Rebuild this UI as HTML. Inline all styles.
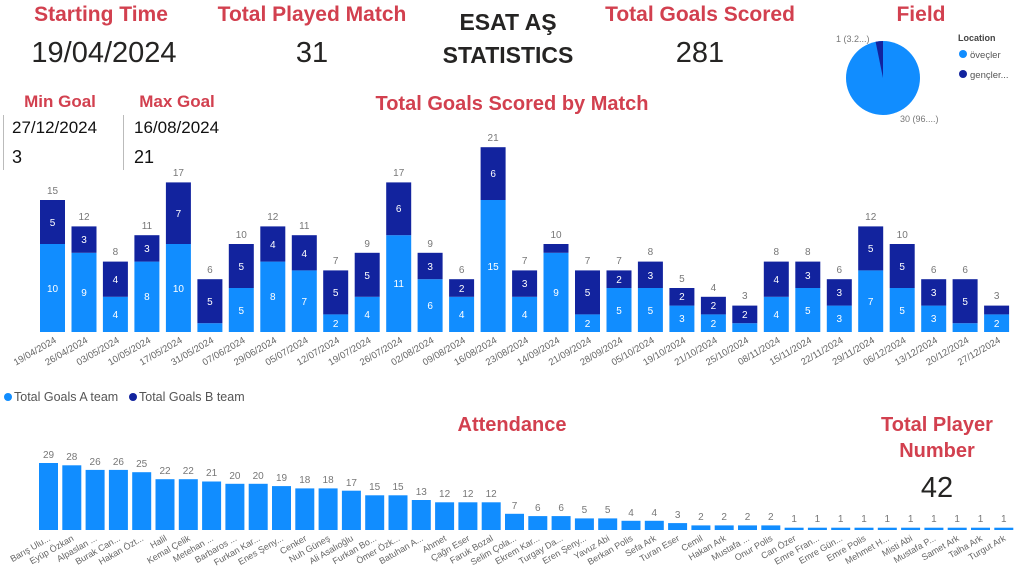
<!DOCTYPE html>
<html><head><meta charset="utf-8"><style>
body{margin:0;background:#fff;}
svg{display:block;font-family:"Liberation Sans",sans-serif;}
.r{fill:#d2404f;font-weight:bold;text-anchor:middle;}
.big{fill:#252423;font-size:29px;text-anchor:middle;}
.a{fill:#118dff}.b{fill:#12239e}
.w{fill:#fff;font-size:10px;text-anchor:middle;}
.t{fill:#777;font-size:10px;text-anchor:middle;}
.d{fill:#666;font-size:9.5px;text-anchor:end;}
.n{fill:#666;font-size:9px;text-anchor:end;}
</style></head><body>
<svg width="1024" height="572" viewBox="0 0 1024 572">
<text class="r" x="101" y="21" font-size="21">Starting Time</text>
<text class="big" x="104" y="62">19/04/2024</text>
<text class="r" x="312" y="21" font-size="21">Total Played Match</text>
<text class="big" x="312" y="62">31</text>
<text x="508" y="30" font-size="23" font-weight="bold" fill="#252423" text-anchor="middle">ESAT AŞ</text>
<text x="508" y="63" font-size="23" font-weight="bold" fill="#252423" text-anchor="middle">STATISTICS</text>
<text class="r" x="700" y="21" font-size="21">Total Goals Scored</text>
<text class="big" x="700" y="62">281</text>
<text class="r" x="921" y="21" font-size="21">Field</text>
<circle cx="883" cy="78" r="37" class="a"/>
<path d="M883,78 L875.6,41.8 A37,37 0 0 1 883,41 Z" class="b"/>
<text x="836" y="42" font-size="9" fill="#777">1 (3.2...)</text>
<text x="900" y="122" font-size="9" fill="#777">30 (96....)</text>
<text x="958" y="41" font-size="9" font-weight="bold" fill="#444">Location</text>
<circle cx="963" cy="54" r="4" class="a"/><text x="970" y="58" font-size="9.5" fill="#555">öveçler</text>
<circle cx="963" cy="74" r="4" class="b"/><text x="970" y="78" font-size="9.5" fill="#555">gençler...</text>
<text class="r" x="60" y="107" font-size="17">Min Goal</text>
<text class="r" x="177" y="107" font-size="17">Max Goal</text>
<rect x="3" y="115" width="1" height="55" fill="#bbb"/>
<rect x="123" y="115" width="1" height="55" fill="#bbb"/>
<text x="12" y="133" font-size="17" fill="#111">27/12/2024</text>
<text x="12" y="163" font-size="18" fill="#111">3</text>
<text x="134" y="133" font-size="17" fill="#111">16/08/2024</text>
<text x="134" y="163" font-size="18" fill="#111">21</text>
<text class="r" x="512" y="110" font-size="20">Total Goals Scored by Match</text>

<g transform="translate(40,0)"><rect class="a" width="25" y="244" height="88"/><rect class="b" width="25" y="200" height="44"/><text class="w" x="12.5" y="292">10</text><text class="w" x="12.5" y="226">5</text><text class="t" x="12.5" y="194">15</text><text class="d" transform="translate(17,342) rotate(-30)">19/04/2024</text></g>
<g transform="translate(71.5,0)"><rect class="a" width="25" y="252.8" height="79.2"/><rect class="b" width="25" y="226.4" height="26.4"/><text class="w" x="12.5" y="296">9</text><text class="w" x="12.5" y="243">3</text><text class="t" x="12.5" y="220">12</text><text class="d" transform="translate(17,342) rotate(-30)">26/04/2024</text></g>
<g transform="translate(102.9,0)"><rect class="a" width="25" y="296.8" height="35.2"/><rect class="b" width="25" y="261.6" height="35.2"/><text class="w" x="12.5" y="318">4</text><text class="w" x="12.5" y="283">4</text><text class="t" x="12.5" y="255">8</text><text class="d" transform="translate(17,342) rotate(-30)">03/05/2024</text></g>
<g transform="translate(134.4,0)"><rect class="a" width="25" y="261.6" height="70.4"/><rect class="b" width="25" y="235.2" height="26.4"/><text class="w" x="12.5" y="300">8</text><text class="w" x="12.5" y="252">3</text><text class="t" x="12.5" y="229">11</text><text class="d" transform="translate(17,342) rotate(-30)">10/05/2024</text></g>
<g transform="translate(165.9,0)"><rect class="a" width="25" y="244" height="88"/><rect class="b" width="25" y="182.4" height="61.6"/><text class="w" x="12.5" y="292">10</text><text class="w" x="12.5" y="217">7</text><text class="t" x="12.5" y="176">17</text><text class="d" transform="translate(17,342) rotate(-30)">17/05/2024</text></g>
<g transform="translate(197.4,0)"><rect class="a" width="25" y="323.2" height="8.8"/><rect class="b" width="25" y="279.2" height="44"/><text class="w" x="12.5" y="305">5</text><text class="t" x="12.5" y="273">6</text><text class="d" transform="translate(17,342) rotate(-30)">31/05/2024</text></g>
<g transform="translate(228.8,0)"><rect class="a" width="25" y="288" height="44"/><rect class="b" width="25" y="244" height="44"/><text class="w" x="12.5" y="314">5</text><text class="w" x="12.5" y="270">5</text><text class="t" x="12.5" y="238">10</text><text class="d" transform="translate(17,342) rotate(-30)">07/06/2024</text></g>
<g transform="translate(260.3,0)"><rect class="a" width="25" y="261.6" height="70.4"/><rect class="b" width="25" y="226.4" height="35.2"/><text class="w" x="12.5" y="300">8</text><text class="w" x="12.5" y="248">4</text><text class="t" x="12.5" y="220">12</text><text class="d" transform="translate(17,342) rotate(-30)">29/06/2024</text></g>
<g transform="translate(291.8,0)"><rect class="a" width="25" y="270.4" height="61.6"/><rect class="b" width="25" y="235.2" height="35.2"/><text class="w" x="12.5" y="305">7</text><text class="w" x="12.5" y="257">4</text><text class="t" x="12.5" y="229">11</text><text class="d" transform="translate(17,342) rotate(-30)">05/07/2024</text></g>
<g transform="translate(323.2,0)"><rect class="a" width="25" y="314.4" height="17.6"/><rect class="b" width="25" y="270.4" height="44"/><text class="w" x="12.5" y="327">2</text><text class="w" x="12.5" y="296">5</text><text class="t" x="12.5" y="264">7</text><text class="d" transform="translate(17,342) rotate(-30)">12/07/2024</text></g>
<g transform="translate(354.7,0)"><rect class="a" width="25" y="296.8" height="35.2"/><rect class="b" width="25" y="252.8" height="44"/><text class="w" x="12.5" y="318">4</text><text class="w" x="12.5" y="279">5</text><text class="t" x="12.5" y="247">9</text><text class="d" transform="translate(17,342) rotate(-30)">19/07/2024</text></g>
<g transform="translate(386.2,0)"><rect class="a" width="25" y="235.2" height="96.8"/><rect class="b" width="25" y="182.4" height="52.8"/><text class="w" x="12.5" y="287">11</text><text class="w" x="12.5" y="212">6</text><text class="t" x="12.5" y="176">17</text><text class="d" transform="translate(17,342) rotate(-30)">26/07/2024</text></g>
<g transform="translate(417.6,0)"><rect class="a" width="25" y="279.2" height="52.8"/><rect class="b" width="25" y="252.8" height="26.4"/><text class="w" x="12.5" y="309">6</text><text class="w" x="12.5" y="270">3</text><text class="t" x="12.5" y="247">9</text><text class="d" transform="translate(17,342) rotate(-30)">02/08/2024</text></g>
<g transform="translate(449.1,0)"><rect class="a" width="25" y="296.8" height="35.2"/><rect class="b" width="25" y="279.2" height="17.6"/><text class="w" x="12.5" y="318">4</text><text class="w" x="12.5" y="292">2</text><text class="t" x="12.5" y="273">6</text><text class="d" transform="translate(17,342) rotate(-30)">09/08/2024</text></g>
<g transform="translate(480.6,0)"><rect class="a" width="25" y="200" height="132"/><rect class="b" width="25" y="147.2" height="52.8"/><text class="w" x="12.5" y="270">15</text><text class="w" x="12.5" y="177">6</text><text class="t" x="12.5" y="141">21</text><text class="d" transform="translate(17,342) rotate(-30)">16/08/2024</text></g>
<g transform="translate(512.1,0)"><rect class="a" width="25" y="296.8" height="35.2"/><rect class="b" width="25" y="270.4" height="26.4"/><text class="w" x="12.5" y="318">4</text><text class="w" x="12.5" y="287">3</text><text class="t" x="12.5" y="264">7</text><text class="d" transform="translate(17,342) rotate(-30)">23/08/2024</text></g>
<g transform="translate(543.5,0)"><rect class="a" width="25" y="252.8" height="79.2"/><rect class="b" width="25" y="244" height="8.8"/><text class="w" x="12.5" y="296">9</text><text class="t" x="12.5" y="238">10</text><text class="d" transform="translate(17,342) rotate(-30)">14/09/2024</text></g>
<g transform="translate(575,0)"><rect class="a" width="25" y="314.4" height="17.6"/><rect class="b" width="25" y="270.4" height="44"/><text class="w" x="12.5" y="327">2</text><text class="w" x="12.5" y="296">5</text><text class="t" x="12.5" y="264">7</text><text class="d" transform="translate(17,342) rotate(-30)">21/09/2024</text></g>
<g transform="translate(606.5,0)"><rect class="a" width="25" y="288" height="44"/><rect class="b" width="25" y="270.4" height="17.6"/><text class="w" x="12.5" y="314">5</text><text class="w" x="12.5" y="283">2</text><text class="t" x="12.5" y="264">7</text><text class="d" transform="translate(17,342) rotate(-30)">28/09/2024</text></g>
<g transform="translate(637.9,0)"><rect class="a" width="25" y="288" height="44"/><rect class="b" width="25" y="261.6" height="26.4"/><text class="w" x="12.5" y="314">5</text><text class="w" x="12.5" y="279">3</text><text class="t" x="12.5" y="255">8</text><text class="d" transform="translate(17,342) rotate(-30)">05/10/2024</text></g>
<g transform="translate(669.4,0)"><rect class="a" width="25" y="305.6" height="26.4"/><rect class="b" width="25" y="288" height="17.6"/><text class="w" x="12.5" y="322">3</text><text class="w" x="12.5" y="300">2</text><text class="t" x="12.5" y="282">5</text><text class="d" transform="translate(17,342) rotate(-30)">19/10/2024</text></g>
<g transform="translate(700.9,0)"><rect class="a" width="25" y="314.4" height="17.6"/><rect class="b" width="25" y="296.8" height="17.6"/><text class="w" x="12.5" y="327">2</text><text class="w" x="12.5" y="309">2</text><text class="t" x="12.5" y="291">4</text><text class="d" transform="translate(17,342) rotate(-30)">21/10/2024</text></g>
<g transform="translate(732.3,0)"><rect class="a" width="25" y="323.2" height="8.8"/><rect class="b" width="25" y="305.6" height="17.6"/><text class="w" x="12.5" y="318">2</text><text class="t" x="12.5" y="299">3</text><text class="d" transform="translate(17,342) rotate(-30)">25/10/2024</text></g>
<g transform="translate(763.8,0)"><rect class="a" width="25" y="296.8" height="35.2"/><rect class="b" width="25" y="261.6" height="35.2"/><text class="w" x="12.5" y="318">4</text><text class="w" x="12.5" y="283">4</text><text class="t" x="12.5" y="255">8</text><text class="d" transform="translate(17,342) rotate(-30)">08/11/2024</text></g>
<g transform="translate(795.3,0)"><rect class="a" width="25" y="288" height="44"/><rect class="b" width="25" y="261.6" height="26.4"/><text class="w" x="12.5" y="314">5</text><text class="w" x="12.5" y="279">3</text><text class="t" x="12.5" y="255">8</text><text class="d" transform="translate(17,342) rotate(-30)">15/11/2024</text></g>
<g transform="translate(826.8,0)"><rect class="a" width="25" y="305.6" height="26.4"/><rect class="b" width="25" y="279.2" height="26.4"/><text class="w" x="12.5" y="322">3</text><text class="w" x="12.5" y="296">3</text><text class="t" x="12.5" y="273">6</text><text class="d" transform="translate(17,342) rotate(-30)">22/11/2024</text></g>
<g transform="translate(858.2,0)"><rect class="a" width="25" y="270.4" height="61.6"/><rect class="b" width="25" y="226.4" height="44"/><text class="w" x="12.5" y="305">7</text><text class="w" x="12.5" y="252">5</text><text class="t" x="12.5" y="220">12</text><text class="d" transform="translate(17,342) rotate(-30)">29/11/2024</text></g>
<g transform="translate(889.7,0)"><rect class="a" width="25" y="288" height="44"/><rect class="b" width="25" y="244" height="44"/><text class="w" x="12.5" y="314">5</text><text class="w" x="12.5" y="270">5</text><text class="t" x="12.5" y="238">10</text><text class="d" transform="translate(17,342) rotate(-30)">06/12/2024</text></g>
<g transform="translate(921.2,0)"><rect class="a" width="25" y="305.6" height="26.4"/><rect class="b" width="25" y="279.2" height="26.4"/><text class="w" x="12.5" y="322">3</text><text class="w" x="12.5" y="296">3</text><text class="t" x="12.5" y="273">6</text><text class="d" transform="translate(17,342) rotate(-30)">13/12/2024</text></g>
<g transform="translate(952.6,0)"><rect class="a" width="25" y="323.2" height="8.8"/><rect class="b" width="25" y="279.2" height="44"/><text class="w" x="12.5" y="305">5</text><text class="t" x="12.5" y="273">6</text><text class="d" transform="translate(17,342) rotate(-30)">20/12/2024</text></g>
<g transform="translate(984.1,0)"><rect class="a" width="25" y="314.4" height="17.6"/><rect class="b" width="25" y="305.6" height="8.8"/><text class="w" x="12.5" y="327">2</text><text class="t" x="12.5" y="299">3</text><text class="d" transform="translate(17,342) rotate(-30)">27/12/2024</text></g>

<circle cx="8" cy="397" r="4" class="a"/><text x="14" y="401" font-size="12.5" fill="#555">Total  Goals A team</text>
<circle cx="133" cy="397" r="4" class="b"/><text x="139" y="401" font-size="12.5" fill="#555">Total  Goals B team</text>

<text class="r" x="512" y="431" font-size="20">Attendance</text>
<text class="r" x="937" y="431" font-size="20">Total Player</text>
<text class="r" x="937" y="457" font-size="20">Number</text>
<text class="big" x="937" y="497">42</text>

<g class="a">
<rect x="39" y="463" width="19" height="67"/><rect x="62.3" y="465.3" width="19" height="64.7"/><rect x="85.6" y="469.9" width="19" height="60.1"/><rect x="108.9" y="469.9" width="19" height="60.1"/><rect x="132.2" y="472.2" width="19" height="57.8"/><rect x="155.5" y="479.2" width="19" height="50.8"/><rect x="178.8" y="479.2" width="19" height="50.8"/><rect x="202.1" y="481.5" width="19" height="48.5"/><rect x="225.4" y="483.8" width="19" height="46.2"/><rect x="248.7" y="483.8" width="19" height="46.2"/><rect x="272" y="486.1" width="19" height="43.9"/><rect x="295.3" y="488.4" width="19" height="41.6"/><rect x="318.6" y="488.4" width="19" height="41.6"/><rect x="341.9" y="490.7" width="19" height="39.3"/><rect x="365.2" y="495.3" width="19" height="34.7"/><rect x="388.5" y="495.3" width="19" height="34.7"/><rect x="411.8" y="500" width="19" height="30"/><rect x="435.1" y="502.3" width="19" height="27.7"/><rect x="458.4" y="502.3" width="19" height="27.7"/><rect x="481.7" y="502.3" width="19" height="27.7"/><rect x="505" y="513.8" width="19" height="16.2"/><rect x="528.3" y="516.1" width="19" height="13.9"/><rect x="551.6" y="516.1" width="19" height="13.9"/><rect x="574.9" y="518.4" width="19" height="11.6"/><rect x="598.2" y="518.4" width="19" height="11.6"/><rect x="621.5" y="520.8" width="19" height="9.2"/><rect x="644.8" y="520.8" width="19" height="9.2"/><rect x="668.1" y="523.1" width="19" height="6.9"/><rect x="691.4" y="525.4" width="19" height="4.6"/><rect x="714.7" y="525.4" width="19" height="4.6"/><rect x="738" y="525.4" width="19" height="4.6"/><rect x="761.3" y="525.4" width="19" height="4.6"/><rect x="784.6" y="527.7" width="19" height="2.3"/><rect x="807.9" y="527.7" width="19" height="2.3"/><rect x="831.2" y="527.7" width="19" height="2.3"/><rect x="854.5" y="527.7" width="19" height="2.3"/><rect x="877.8" y="527.7" width="19" height="2.3"/><rect x="901.1" y="527.7" width="19" height="2.3"/><rect x="924.4" y="527.7" width="19" height="2.3"/><rect x="947.7" y="527.7" width="19" height="2.3"/><rect x="971" y="527.7" width="19" height="2.3"/><rect x="994.3" y="527.7" width="19" height="2.3"/>
</g>
<g class="t">
<text x="48.5" y="458">29</text><text x="71.8" y="460">28</text><text x="95.1" y="465">26</text><text x="118.4" y="465">26</text><text x="141.7" y="467">25</text><text x="165" y="474">22</text><text x="188.3" y="474">22</text><text x="211.6" y="476">21</text><text x="234.9" y="479">20</text><text x="258.2" y="479">20</text><text x="281.5" y="481">19</text><text x="304.8" y="483">18</text><text x="328.1" y="483">18</text><text x="351.4" y="486">17</text><text x="374.7" y="490">15</text><text x="398" y="490">15</text><text x="421.3" y="495">13</text><text x="444.6" y="497">12</text><text x="467.9" y="497">12</text><text x="491.2" y="497">12</text><text x="514.5" y="509">7</text><text x="537.8" y="511">6</text><text x="561.1" y="511">6</text><text x="584.4" y="513">5</text><text x="607.7" y="513">5</text><text x="631" y="516">4</text><text x="654.3" y="516">4</text><text x="677.6" y="518">3</text><text x="700.9" y="520">2</text><text x="724.2" y="520">2</text><text x="747.5" y="520">2</text><text x="770.8" y="520">2</text><text x="794.1" y="522">1</text><text x="817.4" y="522">1</text><text x="840.7" y="522">1</text><text x="864" y="522">1</text><text x="887.3" y="522">1</text><text x="910.6" y="522">1</text><text x="933.9" y="522">1</text><text x="957.2" y="522">1</text><text x="980.5" y="522">1</text><text x="1003.8" y="522">1</text>
</g>
<g class="n">
<text transform="translate(51,540) rotate(-30)">Barış Ulu...</text>
<text transform="translate(74.3,540) rotate(-30)">Eyüp Özkan</text>
<text transform="translate(97.6,540) rotate(-30)">Alpaslan ...</text>
<text transform="translate(120.9,540) rotate(-30)">Burak Can...</text>
<text transform="translate(144.2,540) rotate(-30)">Hakan Özt...</text>
<text transform="translate(167.5,540) rotate(-30)">Halil</text>
<text transform="translate(190.8,540) rotate(-30)">Kemal Çelik</text>
<text transform="translate(214.1,540) rotate(-30)">Metehan ...</text>
<text transform="translate(237.4,540) rotate(-30)">Barbaros ...</text>
<text transform="translate(260.7,540) rotate(-30)">Furkan Kar...</text>
<text transform="translate(284,540) rotate(-30)">Enes Şeny...</text>
<text transform="translate(307.3,540) rotate(-30)">Cenker</text>
<text transform="translate(330.6,540) rotate(-30)">Nuh Güneş</text>
<text transform="translate(353.9,540) rotate(-30)">Ali Asalıoğlu</text>
<text transform="translate(377.2,540) rotate(-30)">Furkan Bo...</text>
<text transform="translate(400.5,540) rotate(-30)">Ömer Özk...</text>
<text transform="translate(423.8,540) rotate(-30)">Batuhan A...</text>
<text transform="translate(447.1,540) rotate(-30)">Ahmet</text>
<text transform="translate(470.4,540) rotate(-30)">Çağrı Eser</text>
<text transform="translate(493.7,540) rotate(-30)">Faruk Bozal</text>
<text transform="translate(517,540) rotate(-30)">Selim Çola...</text>
<text transform="translate(540.3,540) rotate(-30)">Ekrem Kar...</text>
<text transform="translate(563.6,540) rotate(-30)">Turgay Da...</text>
<text transform="translate(586.9,540) rotate(-30)">Eren Şeny...</text>
<text transform="translate(610.2,540) rotate(-30)">Yavuz Abi</text>
<text transform="translate(633.5,540) rotate(-30)">Berkan Polis</text>
<text transform="translate(656.8,540) rotate(-30)">Sefa Ark</text>
<text transform="translate(680.1,540) rotate(-30)">Turan Eser</text>
<text transform="translate(703.4,540) rotate(-30)">Cemil</text>
<text transform="translate(726.7,540) rotate(-30)">Hakan Ark</text>
<text transform="translate(750,540) rotate(-30)">Mustafa ...</text>
<text transform="translate(773.3,540) rotate(-30)">Onur Polis</text>
<text transform="translate(796.6,540) rotate(-30)">Can Özer</text>
<text transform="translate(819.9,540) rotate(-30)">Emre Fran...</text>
<text transform="translate(843.2,540) rotate(-30)">Emre Gün...</text>
<text transform="translate(866.5,540) rotate(-30)">Emre Polis</text>
<text transform="translate(889.8,540) rotate(-30)">Mehmet H...</text>
<text transform="translate(913.1,540) rotate(-30)">Misti Abi</text>
<text transform="translate(936.4,540) rotate(-30)">Mustafa P...</text>
<text transform="translate(959.7,540) rotate(-30)">Samet Ark</text>
<text transform="translate(983,540) rotate(-30)">Talha Ark</text>
<text transform="translate(1006.3,540) rotate(-30)">Turgut Ark</text>
</g>
</svg>
</body></html>
